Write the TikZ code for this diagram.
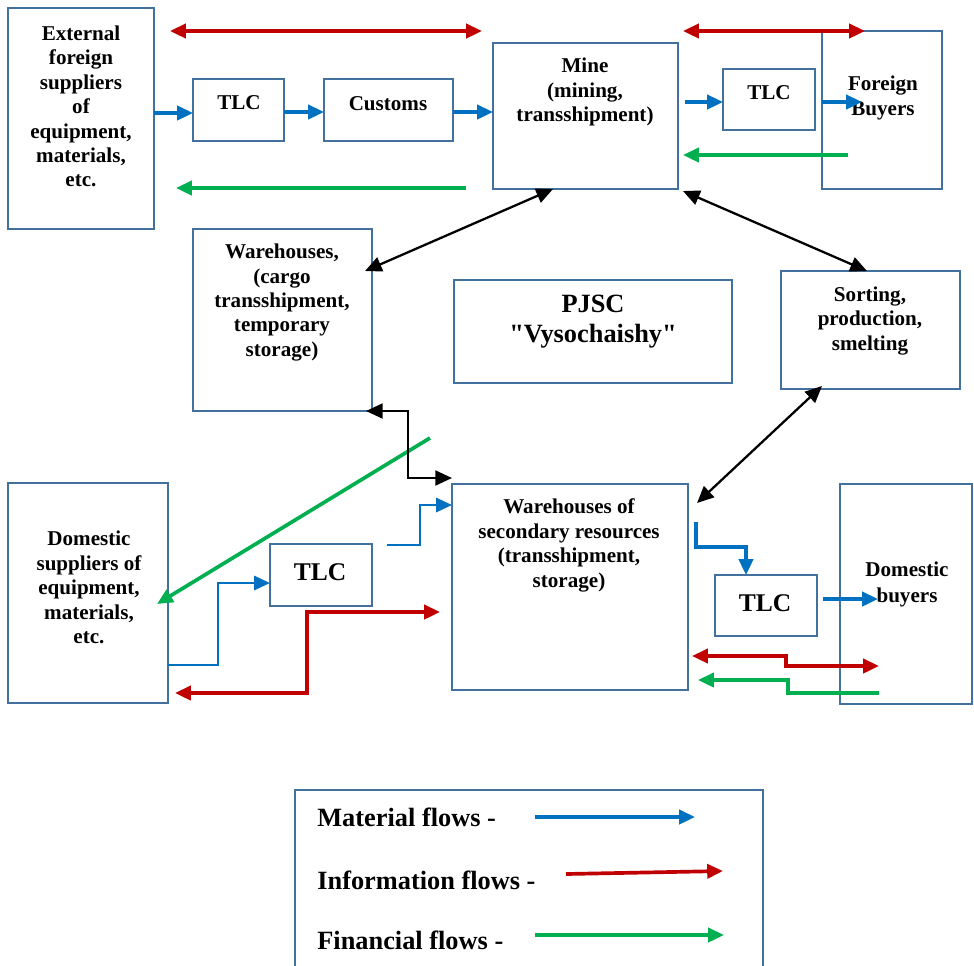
\documentclass[tikz,border=0pt]{standalone}
\usepackage{fontspec}
\setmainfont{Liberation Serif}
\usetikzlibrary{arrows.meta,fit}
\definecolor{boxc}{HTML}{41719C}
\definecolor{matc}{HTML}{0070C0}
\definecolor{infc}{HTML}{C00000}
\definecolor{finc}{HTML}{00B050}
\newcommand{\straightdq}{\XeTeXglyph\the\XeTeXcharglyph"0022\relax}
\tikzset{
  box/.style={draw=boxc, line width=1.2pt, inner sep=0pt, outer sep=0pt},
  lbl/.style={font=\bfseries\fontsize{12}{13.9}\selectfont, align=center, inner sep=0pt, text=black},
  bigl/.style={font=\bfseries\fontsize{14.5}{17}\selectfont, align=center, inner sep=0pt, text=black},
  legl/.style={font=\bfseries\fontsize{15}{17}\selectfont, anchor=west, inner sep=0pt, text=black},
  tipc/.tip={Triangle[length=9pt,width=8pt]},
  tipk/.tip={Triangle[length=9.5pt,width=8.5pt]},
  mat/.style={draw=matc, line width=2.1pt, -tipc},
  matthin/.style={draw=matc, line width=1.5pt, -tipc},
  inf/.style={draw=infc, line width=2.1pt, -tipc},
  infd/.style={draw=infc, line width=2.1pt, tipc-tipc},
  fin/.style={draw=finc, line width=2.1pt, -tipc},
  blk/.style={draw=black, line width=1.3pt, tipk-tipk},
}
\begin{document}
\begin{tikzpicture}[x=0.02cm,y=-0.02cm]
\useasboundingbox[fill=white] (0,0) rectangle (974,965);

% boxes
\node[box, fit={(8,8) (154,229)}] (ext) {};
\node[box, fit={(193,79) (284,141)}] (tlc1) {};
\node[box, fit={(324,79) (453,141)}] (cust) {};
\node[box, fit={(493,43) (678,189)}] (mine) {};
\node[box, fit={(723,69) (815,130)}] (tlc2) {};
\node[box, fit={(822,31) (942,189)}] (fb) {};
\node[box, fit={(193,229) (372,411)}] (wh) {};
\node[box, fit={(454,280) (732,383)}] (pjsc) {};
\node[box, fit={(781,271) (960,389)}] (sort) {};
\node[box, fit={(8,483) (168,703)}] (ds) {};
\node[box, fit={(270,544) (372,606)}] (tlc3) {};
\node[box, fit={(452,484) (688,690)}] (ws) {};
\node[box, fit={(715,575) (817,636)}] (tlc4) {};
\node[box, fit={(840,484) (972,704)}] (db) {};
\node[box, fit={(295,790) (763,1000)}] (leg) {};

% texts
\node[lbl] (t-ext) at (81,106.5) {External\\foreign\\suppliers\\of\\equipment,\\materials,\\etc.};
\node[lbl] (t-tlc1) at (239,103) {TLC};
\node[lbl] (t-cust) at (388,104) {Customs};
\node[lbl] (t-mine) at (585,92) {Mine\\(mining,\\transshipment)};
\node[lbl] (t-tlc2) at (769,93) {TLC};
\node[lbl] (t-fb) at (883,98) {Foreign\\Buyers};
\node[lbl] (t-wh) at (282,302.5) {Warehouses,\\(cargo\\transshipment,\\temporary\\storage)};
\node[font=\bfseries\fontsize{15}{17}\selectfont, align=center, inner sep=0pt] (t-pjsc) at (593,322) {PJSC\\\straightdq Vysochaishy\straightdq};
\node[lbl] (t-sort) at (870,321) {Sorting,\\production,\\smelting};
\node[lbl] (t-ds) at (89,587.5) {Domestic\\suppliers of\\equipment,\\materials,\\etc.};
\node[bigl] (t-tlc3) at (320,572) {TLC};
\node[lbl] (t-ws) at (569,545.5) {Warehouses of\\secondary resources\\(transshipment,\\storage)};
\node[bigl] (t-tlc4) at (765,603) {TLC};
\node[font=\bfseries\fontsize{12}{15.3}\selectfont, align=center, inner sep=0pt] (t-db) at (907,584.5) {Domestic\\buyers};

\node[legl] (l-mat) at (317,817) {Material flows -};
\node[legl] (l-inf) at (317,880) {Information flows -};
\node[legl] (l-fin) at (317,940) {Financial flows -};

% free-end coordinates
\coordinate (a4s) at (685,102);
\coordinate (a5e) at (862,102);
\coordinate (r1a) at (170,31);  \coordinate (r1b) at (482,31);
\coordinate (r2a) at (683,31);  \coordinate (r2b) at (865,31);
\coordinate (g1a) at (466,188); \coordinate (g1b) at (176,188);
\coordinate (g2a) at (848,155); \coordinate (g2b) at (683,155);
\coordinate (k1b) at (365,271);
\coordinate (k2a) at (683,191);
\coordinate (k3a) at (822,386); \coordinate (k3b) at (697,503);
\coordinate (k4a) at (366,411);
\coordinate (g3a) at (430,438); \coordinate (g3b) at (157,604);
\coordinate (b6a) at (387,545);
\coordinate (r3a) at (175,693); \coordinate (r3b) at (440,612);
\coordinate (b7a) at (696,522);
\coordinate (b8a) at (823,599); \coordinate (b8b) at (878,599);
\coordinate (r4a) at (692,656); \coordinate (r4b) at (879,666);
\coordinate (g4a) at (879,693); \coordinate (g4b) at (698,680);
\coordinate (lm1) at (535,817); \coordinate (lm2) at (695,817);
\coordinate (li1) at (566,874); \coordinate (li2) at (723,871);
\coordinate (lf1) at (535,935); \coordinate (lf2) at (724,935);

% material flows
\draw[mat] (ext.east |- 0,113) -- (tlc1.west |- 0,113);
\draw[mat] (tlc1.east |- 0,112) -- (cust.west |- 0,112);
\draw[mat] (cust.east |- 0,112) -- (mine.west |- 0,112);
\draw[mat] (a4s) -- (tlc2.west |- a4s);
\draw[mat] (fb.west |- a5e) -- (a5e);
\draw[matthin] (ds.east |- 0,665) -- ++(50,0) |- (tlc3.west |- 0,583);
\draw[matthin] (b6a) -- ++(33,0) |- (ws.west |- 0,505);
\draw[mat] (b7a) -- ++(0,25) -| (tlc4.north -| 746,0);
\draw[mat] (b8a) -- (b8b);

% information flows
\draw[infd] (r1a) -- (r1b);
\draw[infd] (r2a) -- (r2b);
\draw[infd] (r3a) -- ++(132,0) |- (r3b);
\draw[infd] (r4a) -- ++(94,0) |- (r4b);

% financial flows
\draw[fin] (g1a) -- (g1b);
\draw[fin] (g2a) -- (g2b);
\draw[fin] (g3a) -- (g3b);
\draw[fin] (g4a) -- ++(-91,0) |- (g4b);

% black links
\draw[blk] (mine.south -| 553,0) -- (k1b);
\draw[blk] (k2a) -- (sort.north -| 867,0);
\draw[blk] (k3a) -- (k3b);
\draw[blk] (k4a) -- ++(42,0) |- (ws.west |- 0,478);

% legend arrows
\draw[mat] (lm1) -- (lm2);
\draw[inf] (li1) -- (li2);
\draw[fin] (lf1) -- (lf2);
\end{tikzpicture}
\end{document}
